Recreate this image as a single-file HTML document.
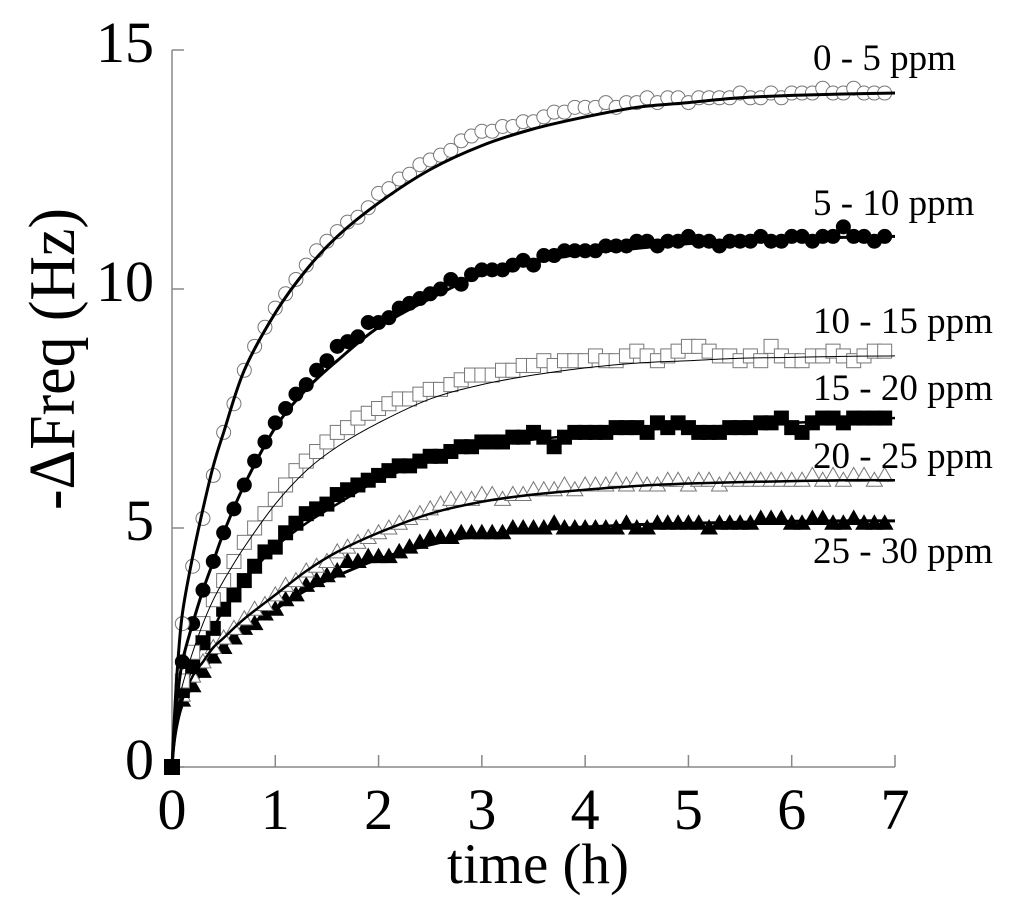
<!DOCTYPE html>
<html><head><meta charset="utf-8"><style>
html,body{margin:0;padding:0;background:#fff;}
svg{display:block;font-family:"Liberation Serif",serif;}
</style></head><body>
<svg id="chart" width="1024" height="899" viewBox="0 0 1024 899"></svg>
<script>
const seriesNames = ["0 - 5 ppm","5 - 10 ppm","10 - 15 ppm","15 - 20 ppm","20 - 25 ppm","25 - 30 ppm"];
const xTicks = [0,1,2,3,4,5,6,7];
const yTicks = [0,5,10,15];
const s1 = [0, 3.0,4.2,5.2,6.1,7.0,7.6,8.3,8.8,9.2,9.6, 9.9,10.2,10.5,10.8,11.0,11.2,11.4,11.5,11.7,12.0, 12.1,12.3,12.4,12.6,12.7,12.8,12.9,13.1,13.2,13.3, 13.3,13.4,13.4,13.5,13.5,13.6,13.7,13.7,13.8,13.8, 13.8,13.9,13.8,13.9,13.9,14.0,13.9,14.0,14.0,13.9, 14.0,14.0,14.0,14.0,14.1,14.0,14.0,14.1,14.0,14.1, 14.1,14.1,14.2,14.1,14.1,14.2,14.1,14.1,14.1];
const s2 = [0, 2.2,3.0,3.7,4.3,4.9,5.4,5.9,6.4,6.8,7.2, 7.5,7.8,8.0,8.3,8.5,8.8,8.9,9.0,9.3,9.3, 9.4,9.6,9.7,9.8,9.9,10.0,10.2,10.1,10.3,10.4, 10.4,10.4,10.5,10.6,10.5,10.7,10.7,10.8,10.8,10.8, 10.8,10.9,10.9,10.9,11.0,11.0,10.9,11.0,11.0,11.1, 11.0,11.0,10.9,11.0,11.0,11.0,11.1,11.0,11.0,11.1, 11.1,11.0,11.1,11.1,11.3,11.1,11.1,11.0,11.1];
const s3 = [0, 1.8,2.4,3.0,3.5,3.9,4.3,4.7,5.0,5.3,5.6, 5.9,6.2,6.4,6.6,6.8,7.0,7.1,7.3,7.4,7.5, 7.6,7.7,7.7,7.8,7.9,7.9,8.0,8.1,8.2,8.2, 8.2,8.3,8.3,8.4,8.4,8.5,8.4,8.5,8.5,8.5, 8.6,8.5,8.5,8.6,8.7,8.6,8.5,8.6,8.7,8.8, 8.8,8.7,8.6,8.6,8.5,8.6,8.5,8.8,8.6,8.5, 8.5,8.6,8.6,8.7,8.6,8.5,8.6,8.7,8.7];
const s4 = [0, 1.6,2.1,2.6,2.9,3.3,3.6,3.9,4.2,4.5,4.6, 4.9,5.1,5.3,5.4,5.5,5.7,5.8,5.9,6.0,6.1, 6.2,6.3,6.3,6.4,6.5,6.5,6.6,6.7,6.7,6.8, 6.8,6.8,6.9,6.9,7.0,6.9,6.7,6.9,7.0,7.0, 7.0,7.0,7.1,7.1,7.1,7.0,7.2,7.1,7.2,7.1, 7.0,7.0,7.0,7.1,7.1,7.1,7.2,7.2,7.3,7.1, 7.0,7.2,7.3,7.3,7.2,7.3,7.3,7.3,7.3];
const s5 = [0, 1.5,1.9,2.2,2.5,2.7,2.9,3.1,3.3,3.4,3.6, 3.8,3.9,4.1,4.2,4.3,4.5,4.6,4.7,4.8,4.9, 5.0,5.1,5.2,5.3,5.4,5.5,5.6,5.6,5.6,5.7, 5.7,5.6,5.7,5.7,5.8,5.8,5.8,5.9,5.8,5.9, 5.9,5.9,6.0,5.9,6.0,5.9,5.9,6.0,6.0,5.9, 6.0,6.0,5.9,6.0,6.0,6.0,6.0,6.0,6.0,6.0, 6.0,6.1,6.0,6.1,6.0,6.1,6.1,6.0,6.1];
const s6 = [0, 1.4,1.7,2.0,2.3,2.5,2.7,2.9,3.0,3.2,3.3, 3.5,3.6,3.8,3.9,4.0,4.1,4.3,4.3,4.4,4.4, 4.4,4.5,4.6,4.7,4.8,4.8,4.8,4.9,4.9,4.9, 4.9,4.9,5.0,5.0,5.0,5.0,5.1,5.0,5.0,5.0, 5.0,5.0,5.0,5.1,5.0,5.0,5.1,5.1,5.1,5.1, 5.1,5.0,5.1,5.1,5.1,5.1,5.2,5.2,5.2,5.1, 5.1,5.2,5.2,5.1,5.1,5.2,5.1,5.1,5.1];
const fitT = [0,0.02,0.05,0.1,0.2,0.3,0.4,0.5,0.7,1,1.3,1.6,2,2.5,3,3.5,4,4.5,5,5.5,6,6.5,7];
const f1 = [0,0.9,2.0,3.2,4.4,5.4,6.3,7.0,8.3,9.5,10.4,11.1,11.8,12.5,13.0,13.35,13.6,13.8,13.9,14.0,14.05,14.08,14.1];
const f2 = [0,0.7,1.4,2.2,3.0,3.7,4.3,4.9,5.9,7.1,7.9,8.5,9.2,9.8,10.3,10.55,10.75,10.85,10.95,11.0,11.05,11.08,11.1];
const f3 = [0,0.6,1.1,1.7,2.4,3.0,3.5,3.9,4.6,5.5,6.2,6.7,7.2,7.7,8.0,8.2,8.35,8.45,8.5,8.55,8.57,8.59,8.6];
const f4 = [0,0.5,1.0,1.5,2.1,2.6,2.9,3.3,3.9,4.6,5.1,5.5,6.0,6.4,6.7,6.85,6.95,7.05,7.1,7.15,7.2,7.25,7.3];
const f5 = [0,0.5,0.9,1.4,1.9,2.2,2.5,2.7,3.1,3.6,4.1,4.5,4.9,5.3,5.55,5.7,5.8,5.88,5.93,5.96,5.98,6.0,6.0];
const f6 = [0,0.5,0.9,1.3,1.7,2.0,2.3,2.5,2.9,3.3,3.7,4.0,4.35,4.65,4.85,4.95,5.02,5.07,5.1,5.12,5.14,5.15,5.15];
const dataT = s1.map((_, i) => i / 10);

const NS = "http://www.w3.org/2000/svg";
const svg = document.getElementById("chart");
const X0 = 172, X1 = 895, Y0 = 767, Y1 = 50;
const sx = v => X0 + (v - 0) / 7 * (X1 - X0);
const sy = v => Y0 - v / 15 * (Y0 - Y1);
function mk(tag, attrs, parent) {
  const e = document.createElementNS(NS, tag);
  for (const k in attrs) e.setAttribute(k, attrs[k]);
  (parent || svg).appendChild(e);
  return e;
}
const axes = mk("g", {});


mk("line", {x1: X0, y1: Y1, x2: X0, y2: Y0, stroke: "#888", "stroke-width": 1.5}, axes);
mk("line", {x1: X0, y1: Y0, x2: X1, y2: Y0, stroke: "#888", "stroke-width": 1.5}, axes);
xTicks.forEach(t => {
  mk("line", {x1: sx(t), y1: Y0, x2: sx(t), y2: Y0 - 12, stroke: "#888", "stroke-width": 1.5}, axes);
  const tx = mk("text", {x: sx(t), y: 829, "text-anchor": "middle", "font-size": 58}, axes);
  tx.textContent = t;
  
  
});
yTicks.forEach(t => {
  mk("line", {x1: X0, y1: sy(t), x2: X0 + 12, y2: sy(t), stroke: "#888", "stroke-width": 1.5}, axes);
  const tx = mk("text", {x: 154, y: sy(t) + 12, "text-anchor": "end", "font-size": 58}, axes);
  tx.textContent = t;
  
  
});
const xt = mk("text", {x: 538, y: 883, "text-anchor": "middle", "font-size": 57});
xt.textContent = "time (h)";


const yt = mk("text", {x: 0, y: 0, "text-anchor": "middle", "font-size": 66, textLength: 302, lengthAdjust: "spacingAndGlyphs", transform: "translate(74,359) rotate(-90)"});
yt.textContent = "-\u0394Freq (Hz)";



const series = [s1, s2, s3, s4, s5, s6];
const fits = [f1, f2, f3, f4, f5, f6];
const markers = ["circle-open", "circle", "square-open", "square", "tri-open", "tri"];
const widths = [3, 3, 1, 2.5, 2.5, 3];
function marker(type, x, y, g) {
  const open = type.endsWith("open");
  const fill = open ? "#fff" : "#000";
  const stroke = open ? "#777" : "#000";
  let e;
  if (type.startsWith("circle")) e = mk("circle", {cx: x, cy: y, r: 7, fill, stroke, "stroke-width": 1}, g);
  else if (type.startsWith("square")) e = mk("rect", {x: x - 7, y: y - 7, width: 14, height: 14, fill, stroke, "stroke-width": 1}, g);
  else e = mk("polygon", {points: `${x},${y - 8} ${x - 8},${y + 6} ${x + 8},${y + 6}`, fill, stroke, "stroke-width": 1}, g);
  return e;
}
function spline(xs, ys) {
  const p = xs.map((t, i) => [sx(t), sy(ys[i])]);
  let d = `M${p[0][0]},${p[0][1]}`;
  for (let i = 0; i < p.length - 1; i++) {
    const p0 = p[Math.max(0, i - 1)], p1 = p[i], p2 = p[i + 1], p3 = p[Math.min(p.length - 1, i + 2)];
    const c1 = [p1[0] + (p2[0] - p0[0]) / 6, p1[1] + (p2[1] - p0[1]) / 6];
    const c2 = [p2[0] - (p3[0] - p1[0]) / 6, p2[1] - (p3[1] - p1[1]) / 6];
    d += `C${c1[0]},${c1[1]} ${c2[0]},${c2[1]} ${p2[0]},${p2[1]}`;
  }
  return d;
}
for (let k = series.length - 1; k >= 0; k--) {
  const g = mk("g", {});
  
  
  series[k].forEach((v, i) => {
    if (i === 0) return;
    const m = marker(markers[k], sx(dataT[i]), sy(v), g);
    
    
  });
  const path = mk("path", {d: spline(fitT, fits[k]), fill: "none", stroke: "#000", "stroke-width": widths[k]}, g);
  
  
}
const origin = mk("rect", {x: sx(0) - 8, y: sy(s4[0]) - 8, width: 16, height: 16, fill: "#000"});



const labelY = [70, 215, 333, 400, 468, 563];
seriesNames.forEach((n, k) => {
  const t = mk("text", {x: 813, y: labelY[k], "font-size": 37});
  t.textContent = n;
  
  
});
</script>
</body></html>
